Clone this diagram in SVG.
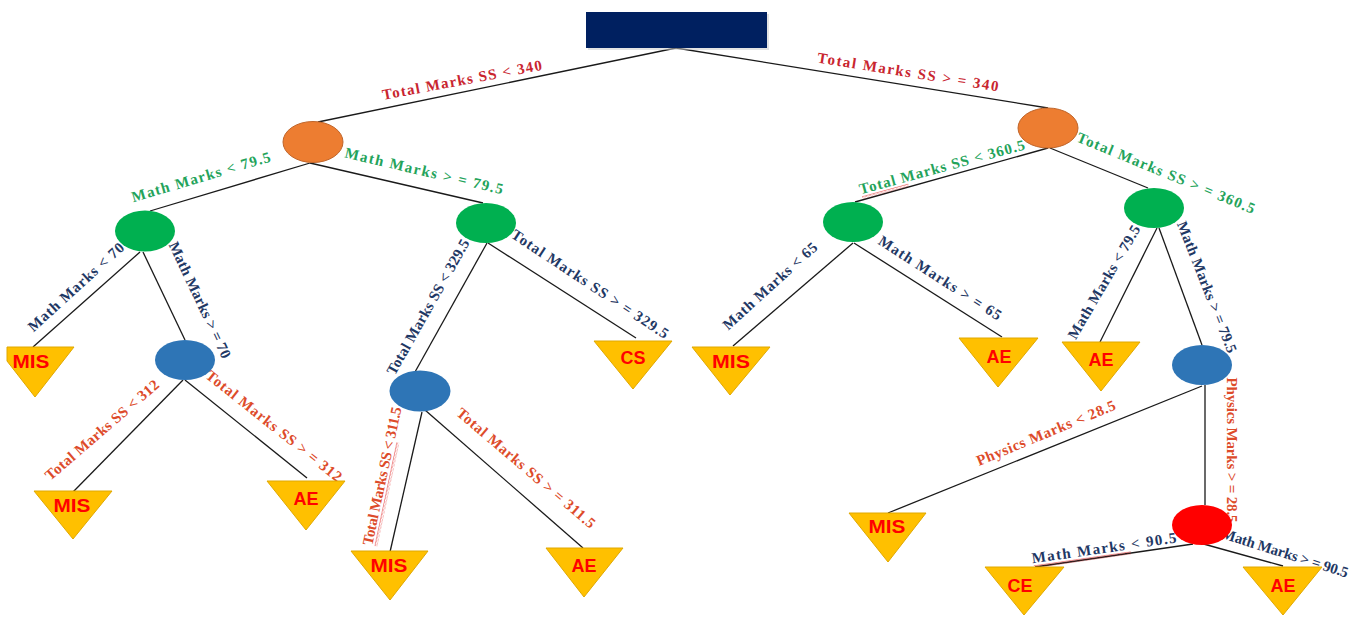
<svg xmlns="http://www.w3.org/2000/svg" width="1359" height="617" viewBox="0 0 1359 617">
<style>
  .edge{stroke:#1a1a1a;stroke-width:1.3;fill:none}
  .lbl{font-family:"Liberation Serif","Times New Roman",serif;font-weight:bold;font-size:15px}
  .red{fill:#C9252F}
  .grn{fill:#23A35A}
  .nav{fill:#1F3864}
  .org{fill:#DD4B2A}
  .leaf{fill:#FFC000;stroke:#E0A800;stroke-width:1}
  .leaftxt{font-family:"Liberation Sans",Arial,sans-serif;font-weight:bold;font-size:18px;fill:#FF0000;text-anchor:middle}
  .orange{fill:#ED7D31;stroke:#C0652A;stroke-width:1}
  .green{fill:#00B050}
  .blue{fill:#2E75B6}
  .redn{fill:#FF0000}
</style>
<defs>
  <pattern id="wave" patternUnits="userSpaceOnUse" width="4" height="3">
    <path d="M0,1.5 Q1,0 2,1.5 T4,1.5" stroke="#E02020" stroke-width="0.8" fill="none"/>
  </pattern>
</defs>
<rect width="1359" height="617" fill="#FFFFFF"/>

<g id="connectors">
  <line class="edge" x1="676" y1="48" x2="318" y2="122"/>
  <line class="edge" x1="676" y1="48" x2="1048" y2="108"/>
  <line class="edge" x1="310" y1="163" x2="150" y2="211"/>
  <line class="edge" x1="310" y1="163" x2="483" y2="203"/>
  <line class="edge" x1="1048" y1="148" x2="855" y2="202"/>
  <line class="edge" x1="1050" y1="148" x2="1148" y2="188"/>
  <line class="edge" x1="140" y1="252" x2="33" y2="347"/>
  <line class="edge" x1="143" y1="252" x2="185" y2="340"/>
  <line class="edge" x1="183" y1="380" x2="73" y2="492"/>
  <line class="edge" x1="185" y1="380" x2="307" y2="478"/>
  <line class="edge" x1="487" y1="243" x2="415" y2="372"/>
  <line class="edge" x1="488" y1="243" x2="636" y2="338"/>
  <line class="edge" x1="422" y1="412" x2="390" y2="552"/>
  <line class="edge" x1="425" y1="410" x2="583" y2="548"/>
  <line class="edge" x1="853" y1="243" x2="733" y2="346"/>
  <line class="edge" x1="854" y1="243" x2="1002" y2="337"/>
  <line class="edge" x1="1157" y1="228" x2="1100" y2="342"/>
  <line class="edge" x1="1159" y1="228" x2="1202" y2="345"/>
  <line class="edge" x1="1202" y1="386" x2="888" y2="513"/>
  <line class="edge" x1="1205" y1="385" x2="1205" y2="505"/>
  <line class="edge" x1="1193" y1="544" x2="1035" y2="567"/>
  <line class="edge" x1="1200" y1="543" x2="1283" y2="566"/>
</g>

<g id="labels">
  <g transform="translate(462,80) rotate(-10.7)"><text class="lbl red" x="0" y="0" dy="0.33em" text-anchor="middle" textLength="162" lengthAdjust="spacing">Total Marks SS &lt; 340</text></g>
  <g transform="translate(908,72) rotate(9.1)"><text class="lbl red" x="0" y="0" dy="0.33em" text-anchor="middle" textLength="183" lengthAdjust="spacing">Total Marks SS &gt; = 340</text></g>
  <g transform="translate(201,177) rotate(-16.5)"><text class="lbl grn" x="0" y="0" dy="0.33em" text-anchor="middle" textLength="144" lengthAdjust="spacing">Math Marks &lt; 79.5</text></g>
  <g transform="translate(424,171) rotate(13.2)"><text class="lbl grn" x="0" y="0" dy="0.33em" text-anchor="middle" textLength="162" lengthAdjust="spacing">Math Marks &gt; = 79.5</text></g>
  <g transform="translate(942,167) rotate(-15.3)"><rect x="-85" y="7" width="48" height="3" fill="url(#wave)"/><text class="lbl grn" x="0" y="0" dy="0.33em" text-anchor="middle" textLength="171" lengthAdjust="spacing">Total Marks SS &lt; 360.5</text></g>
  <g transform="translate(1166,173) rotate(22.4)"><text class="lbl grn" x="0" y="0" dy="0.33em" text-anchor="middle" textLength="191" lengthAdjust="spacing">Total Marks SS &gt; = 360.5</text></g>
  <g transform="translate(76,287) rotate(-42.3)"><text class="lbl nav" x="0" y="0" dy="0.33em" text-anchor="middle" textLength="124" lengthAdjust="spacing">Math Marks &lt; 70</text></g>
  <g transform="translate(200,300) rotate(64.8)"><text class="lbl nav" x="0" y="0" dy="0.33em" text-anchor="middle" textLength="127" lengthAdjust="spacing">Math Marks &gt; = 70</text></g>
  <g transform="translate(102,430) rotate(-40.8)"><text class="lbl org" x="0" y="0" dy="0.33em" text-anchor="middle" textLength="145" lengthAdjust="spacing">Total Marks SS &lt; 312</text></g>
  <g transform="translate(274,426) rotate(38.5)"><text class="lbl org" x="0" y="0" dy="0.33em" text-anchor="middle" textLength="169" lengthAdjust="spacing">Total Marks SS &gt; = 312</text></g>
  <g transform="translate(428,307) rotate(-60.6)"><text class="lbl nav" x="0" y="0" dy="0.33em" text-anchor="middle" textLength="153" lengthAdjust="spacing">Total Marks SS &lt; 329.5</text></g>
  <g transform="translate(590,284) rotate(33.5)"><text class="lbl nav" x="0" y="0" dy="0.33em" text-anchor="middle" textLength="185" lengthAdjust="spacing">Total Marks SS &gt; = 329.5</text></g>
  <g transform="translate(382,476) rotate(-78)"><rect x="-70" y="7" width="106" height="3" fill="url(#wave)"/><text class="lbl org" x="0" y="0" dy="0.33em" text-anchor="middle" textLength="141" lengthAdjust="spacing">Total Marks SS &lt; 311.5</text></g>
  <g transform="translate(526,468) rotate(40.4)"><text class="lbl org" x="0" y="0" dy="0.33em" text-anchor="middle" textLength="177" lengthAdjust="spacing">Total Marks SS &gt; = 311.5</text></g>
  <g transform="translate(770,286) rotate(-42.3)"><text class="lbl nav" x="0" y="0" dy="0.33em" text-anchor="middle" textLength="122" lengthAdjust="spacing">Math Marks &lt; 65</text></g>
  <g transform="translate(940,278) rotate(32.7)"><text class="lbl nav" x="0" y="0" dy="0.33em" text-anchor="middle" textLength="143" lengthAdjust="spacing">Math Marks &gt; = 65</text></g>
  <g transform="translate(1104,282) rotate(-59.6)"><text class="lbl nav" x="0" y="0" dy="0.33em" text-anchor="middle" textLength="129" lengthAdjust="spacing">Math Marks &lt; 79.5</text></g>
  <g transform="translate(1207,287) rotate(68.6)"><text class="lbl nav" x="0" y="0" dy="0.33em" text-anchor="middle" textLength="140" lengthAdjust="spacing">Math Marks &gt; = 79.5</text></g>
  <g transform="translate(1046,433) rotate(-22.4)"><text class="lbl org" x="0" y="0" dy="0.33em" text-anchor="middle" textLength="149" lengthAdjust="spacing">Physics Marks &lt; 28.5</text></g>
  <g transform="translate(1232,450) rotate(90)"><text class="lbl org" x="0" y="0" dy="0.33em" text-anchor="middle" textLength="145" lengthAdjust="spacing">Physics Marks &gt; = 28.5</text></g>
  <g transform="translate(1104,548) rotate(-8.2)"><rect x="-72" y="7" width="98" height="3" fill="url(#wave)"/><text class="lbl nav" x="0" y="0" dy="0.33em" text-anchor="middle" textLength="146" lengthAdjust="spacing">Math Marks &lt; 90.5</text></g>
  <g transform="translate(1285,553) rotate(17.6)"><text class="lbl nav" x="0" y="0" dy="0.33em" text-anchor="middle" textLength="132" lengthAdjust="spacing">Math Marks &gt; = 90.5</text></g>
</g>

<g id="root">
  <rect x="588" y="14" width="181" height="36" fill="#C8C8C8" opacity="0.5"/>
  <rect x="586" y="12" width="181" height="36" fill="#002060"/>
</g>

<g id="n-orange-left"><ellipse class="orange" cx="313" cy="142" rx="30" ry="20.5"/></g>
<g id="n-orange-right"><ellipse class="orange" cx="1048" cy="128" rx="30" ry="20"/></g>
<g id="n-green-l1"><ellipse class="green" cx="145" cy="231" rx="30" ry="20.5"/></g>
<g id="n-green-l2"><ellipse class="green" cx="486" cy="223" rx="30" ry="20"/></g>
<g id="n-green-r1"><ellipse class="green" cx="853" cy="222" rx="30" ry="20"/></g>
<g id="n-green-r2"><ellipse class="green" cx="1154" cy="208" rx="30" ry="20"/></g>
<g id="n-blue-l1"><ellipse class="blue" cx="185" cy="360" rx="30" ry="20"/></g>
<g id="n-blue-l2"><ellipse class="blue" cx="420" cy="391" rx="30.5" ry="20.5"/></g>
<g id="n-blue-r"><ellipse class="blue" cx="1202" cy="365" rx="30" ry="20"/></g>
<g id="n-red"><ellipse class="redn" cx="1202" cy="525" rx="30" ry="20"/></g>

<g id="leaf-mis-1"><polygon class="leaf" points="7,347 74,347 35,397 7,361"/><text class="leaftxt" x="31" y="368" textLength="37" lengthAdjust="spacingAndGlyphs">MIS</text></g>
<g id="leaf-mis-2"><polygon class="leaf" points="34,491 112,491 73,539"/><text class="leaftxt" x="72" y="512" textLength="37" lengthAdjust="spacingAndGlyphs">MIS</text></g>
<g id="leaf-ae-1"><polygon class="leaf" points="267,481 345,481 306,530"/><text class="leaftxt" x="306" y="505">AE</text></g>
<g id="leaf-cs"><polygon class="leaf" points="594,341 672,341 633,389"/><text class="leaftxt" x="633" y="364">CS</text></g>
<g id="leaf-mis-3"><polygon class="leaf" points="351,551 428,551 390,600"/><text class="leaftxt" x="389" y="572" textLength="37" lengthAdjust="spacingAndGlyphs">MIS</text></g>
<g id="leaf-ae-2"><polygon class="leaf" points="546,548 623,548 584,597"/><text class="leaftxt" x="584" y="572">AE</text></g>
<g id="leaf-mis-4"><polygon class="leaf" points="692,347 770,347 730,395"/><text class="leaftxt" x="731" y="368" textLength="38" lengthAdjust="spacingAndGlyphs">MIS</text></g>
<g id="leaf-ae-3"><polygon class="leaf" points="959,338 1038,338 998,387"/><text class="leaftxt" x="999" y="363">AE</text></g>
<g id="leaf-ae-4"><polygon class="leaf" points="1062,342 1140,342 1101,391"/><text class="leaftxt" x="1101" y="366">AE</text></g>
<g id="leaf-mis-5"><polygon class="leaf" points="849,513 926,513 888,562"/><text class="leaftxt" x="887" y="533" textLength="37" lengthAdjust="spacingAndGlyphs">MIS</text></g>
<g id="leaf-ce"><polygon class="leaf" points="985,567 1064,567 1024,615"/><text class="leaftxt" x="1020" y="592">CE</text></g>
<g id="leaf-ae-5"><polygon class="leaf" points="1243,567 1322,567 1283,615"/><text class="leaftxt" x="1283" y="592">AE</text></g>
</svg>
